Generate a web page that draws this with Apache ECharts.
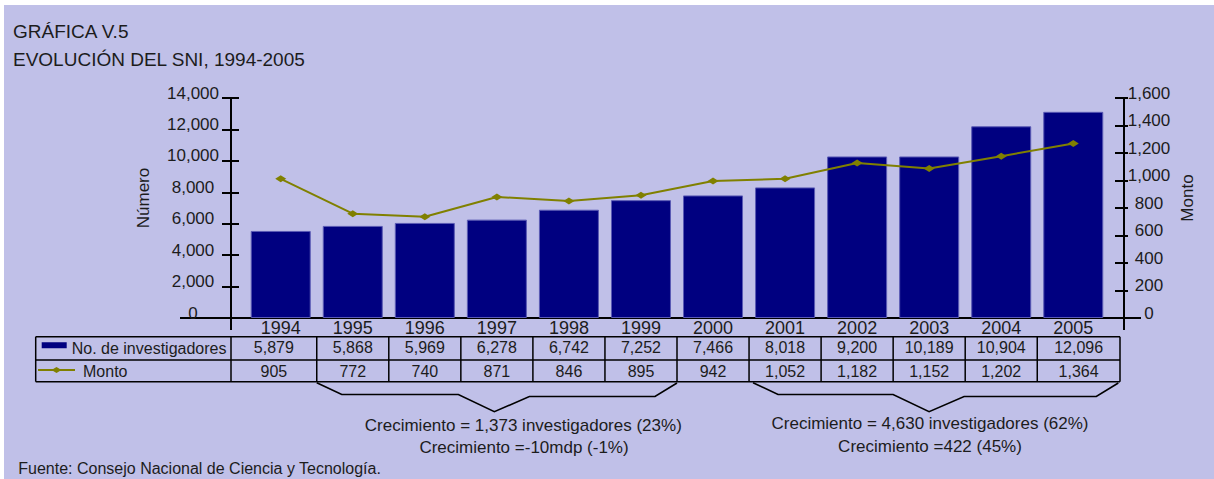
<!DOCTYPE html>
<html>
<head>
<meta charset="utf-8">
<script src="https://cdn.jsdelivr.net/npm/echarts@6/dist/echarts.min.js"></script>
<style>
html,body{margin:0;padding:0;background:#fff;}
#c{position:absolute;left:0;top:0;width:1214px;height:479px;}
</style>
</head>
<body>
<div id="c"></div>
<script>
// ---------- data ----------
const years = ['1994','1995','1996','1997','1998','1999','2000','2001','2002','2003','2004','2005'];
// bar heights as drawn in the picture (left axis, "Número")
const investigadores = [5540, 5860, 6050, 6260, 6890, 7500, 7800, 8310, 10280, 10280, 12200, 13120];
// line points as drawn in the picture (right axis, "Monto")
const monto = [1012, 759, 737, 880, 851, 892, 996, 1012, 1128, 1088, 1177, 1269];
// values printed in the data table
const tablaInvestigadores = ['5,879','5,868','5,969','6,278','6,742','7,252','7,466','8,018','9,200','10,189','10,904','12,096'];
const tablaMonto = ['905','772','740','871','846','895','942','1,052','1,182','1,152','1,202','1,364'];
// axes
const leftMin = 0, leftMax = 14000, leftStep = 2000;
const rightMin = 0, rightMax = 1600, rightStep = 200;
// texts
const titulo1 = 'GRÁFICA V.5';
const titulo2 = 'EVOLUCIÓN DEL SNI, 1994-2005';
const nombreIzq = 'Número';
const nombreDer = 'Monto';
const leyendaBarras = 'No. de investigadores';
const leyendaLinea = 'Monto';
const nota1 = ['Crecimiento = 1,373 investigadores (23%)', 'Crecimiento =-10mdp (-1%)'];
const nota2 = ['Crecimiento = 4,630 investigadores (62%)', 'Crecimiento =422 (45%)'];
const fuente = 'Fuente: Consejo Nacional de Ciencia y Tecnología.';

// ---------- styles / layout ----------
const FONT = '"Liberation Sans", Arial, Helvetica, sans-serif';
const TXT = '#1c1c1c';
const BG = '#c0c0e8';
const BAR = '#000080';
const OLIVE = '#808000';
const GRID_L = 244.7, GRID_R = 1109.3, GRID_T = 98, GRID_B = 318;
const AXIS_L = 231, AXIS_R = 1124;
const W = 1214, H = 479;

const fmt = v => Number(v).toLocaleString('en-US');

const chart = echarts.init(document.getElementById('c'), null, {renderer: 'svg', width: W, height: H});

const axisBase = (pos, off, min, max, step) => ({
  type: 'value', position: pos, offset: off, min: min, max: max, interval: step,
  splitLine: {show: false}
});

const option = {
  animation: false,
  backgroundColor: BG,
  textStyle: {fontFamily: FONT},
  grid: {left: GRID_L, right: W - GRID_R, top: GRID_T, bottom: H - GRID_B, containLabel: false},
  xAxis: {
    type: 'category', data: years,
    axisLine: {show: false}, axisTick: {show: false},
    axisLabel: {fontSize: 18, color: TXT, margin: 1, fontFamily: FONT}
  },
  yAxis: [
    Object.assign(axisBase('left', GRID_L - AXIS_L, leftMin, leftMax, leftStep), {
      axisLine: {show: true, lineStyle: {color: '#000', width: 2}},
      axisTick: {show: true, length: 9, lineStyle: {color: '#000', width: 2}},
      axisLabel: {formatter: fmt, fontSize: 17, color: TXT, align: 'center', verticalAlign: 'bottom', lineHeight: 10, margin: 38, fontFamily: FONT}
    }),
    Object.assign(axisBase('right', AXIS_R - GRID_R, rightMin, rightMax, rightStep), {
      axisLine: {show: true, lineStyle: {color: '#000', width: 2}},
      axisTick: {show: true, length: 4, lineStyle: {color: '#000', width: 2}},
      axisLabel: {formatter: fmt, fontSize: 17, color: TXT, align: 'center', verticalAlign: 'bottom', lineHeight: 10, margin: 25, fontFamily: FONT}
    }),
    Object.assign(axisBase('left', GRID_L - AXIS_L, leftMin, leftMax, leftStep), {
      axisLine: {show: false},
      axisTick: {show: true, inside: true, length: 8, lineStyle: {color: '#000', width: 2}},
      axisLabel: {show: false}
    }),
    Object.assign(axisBase('right', AXIS_R - GRID_R, rightMin, rightMax, rightStep), {
      axisLine: {show: false},
      axisTick: {show: true, inside: true, length: 9, lineStyle: {color: '#000', width: 2}},
      axisLabel: {show: false}
    })
  ],
  series: [
    {
      name: leyendaBarras, type: 'bar', data: investigadores, yAxisIndex: 0, barWidth: 60,
      itemStyle: {color: BAR, borderColor: '#5a5ab4', borderWidth: 1}
    },
    {
      name: leyendaLinea, type: 'line', data: monto, yAxisIndex: 1,
      symbol: 'diamond', symbolSize: [11, 7],
      lineStyle: {color: OLIVE, width: 2}, itemStyle: {color: OLIVE}, z: 5
    }
  ]
};
chart.setOption(option);

// ---------- table, brackets, texts (positions derived from the category axis) ----------
const cx = years.map(y => chart.convertToPixel({xAxisIndex: 0}, y));
const band = cx[1] - cx[0];
const T_LEFT = 35.7, T_RIGHT = 1120, T_TOP = 336.7, T_MID = 360, T_BOT = 381.7;
const bounds = [AXIS_L];
for (let i = 1; i < years.length; i++) bounds.push(cx[i] - band / 2);
bounds.push(T_RIGHT);

const g = [];
const line = (x1, y1, x2, y2, w) => g.push({type: 'line', shape: {x1, y1, x2, y2}, style: {stroke: '#000', lineWidth: w || 1.5}, silent: true});
const text = (t, x, y, size, align, extra) => g.push(Object.assign({
  type: 'text', x: x, y: y,
  style: {text: t, fontSize: size, fontFamily: FONT, fill: TXT, align: align || 'center', verticalAlign: 'middle'},
  silent: true
}, extra || {}));

// page frame (white strips at top and left)
g.push({type: 'rect', shape: {x: 0, y: 0, width: W, height: 5}, style: {fill: '#fff'}, silent: true});
g.push({type: 'rect', shape: {x: 0, y: 0, width: 4, height: H}, style: {fill: '#fff'}, silent: true});

// titles
text(titulo1, 13, 31, 19, 'left');
text(titulo2, 13, 59.6, 19, 'left');

// axis names
text(nombreIzq, 143, 198, 17, 'center', {rotation: Math.PI / 2});
text(nombreDer, 1187, 198, 17, 'center', {rotation: Math.PI / 2});

// baseline and axis extensions
line(180, GRID_B, 1141, GRID_B, 2);
line(AXIS_L, GRID_B, AXIS_L, 330, 2);
line(AXIS_R, GRID_B, AXIS_R, 330, 2);

// table grid
line(T_LEFT, T_TOP, T_RIGHT, T_TOP);
line(T_LEFT, T_MID, T_RIGHT, T_MID);
line(T_LEFT, T_BOT, T_RIGHT, T_BOT);
line(T_LEFT, T_TOP, T_LEFT, T_BOT);
bounds.forEach(b => line(b, T_TOP, b, T_BOT));

// table legend cells
g.push({type: 'rect', shape: {x: 41.7, y: 342.3, width: 25, height: 6}, style: {fill: BAR}, silent: true});
text(leyendaBarras, 71.7, 348, 16, 'left');
g.push({type: 'line', shape: {x1: 38, y1: 370, x2: 75, y2: 370}, style: {stroke: OLIVE, lineWidth: 2}, silent: true});
g.push({type: 'polygon', shape: {points: [[51.5, 370], [56.5, 367], [61.5, 370], [56.5, 373]]}, style: {fill: OLIVE}, silent: true});
text(leyendaLinea, 83, 371, 16, 'left');

// table values
for (let i = 0; i < years.length; i++) {
  const mid = (bounds[i] + bounds[i + 1]) / 2;
  text(tablaInvestigadores[i], mid, 347.5, 16);
  text(tablaMonto[i], mid, 371.5, 16);
}

// brackets
function bracket(xs, xe, apexFrac) {
  const xa = xs + (xe - xs) * apexFrac;
  g.push({
    type: 'polyline',
    shape: {points: [[xs, 382.7], [xs + 25, 394.5], [xa - 36, 394.5], [xa, 411.7], [xa + 35, 396.5], [xe - 22, 396.5], [xe, 383]]},
    style: {stroke: '#000', lineWidth: 1.6, fill: null}, silent: true
  });
}
bracket(bounds[1], bounds[6], 0.493);
bracket(bounds[7] + 4, bounds[12] - 1.7, 0.482);

text(nota1[0], 523.3, 425, 17);
text(nota1[1], 524, 447.7, 17);
text(nota2[0], 930, 423.3, 17);
text(nota2[1], 930, 446, 17);

// source
text(fuente, 18.3, 468, 16, 'left');

chart.setOption({graphic: {elements: g}});
</script>
</body>
</html>
